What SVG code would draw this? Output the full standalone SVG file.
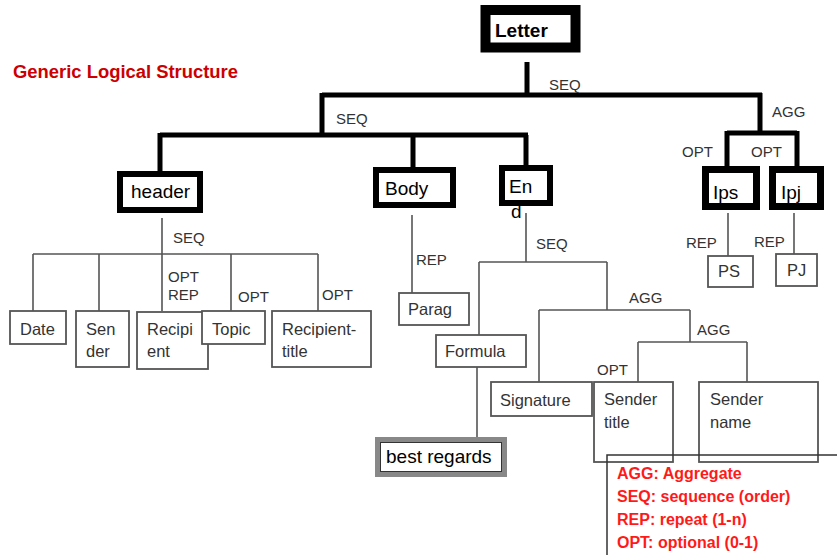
<svg xmlns="http://www.w3.org/2000/svg" width="837" height="555" viewBox="0 0 837 555">
  <style>
    .thick { fill: #fff; stroke: #000; }
    .box { fill: #fff; stroke: #555; stroke-width: 1.8; }
    .main { font-family: "Liberation Sans", Arial, sans-serif; font-size: 19px; fill: #000; }
    .txt { font-family: "Liberation Sans", Arial, sans-serif; font-size: 16.5px; fill: #333; }
    .lbl { font-family: "Liberation Sans", Arial, sans-serif; font-size: 15px; fill: #333; }
    .bold-line { fill: none; stroke: #000; stroke-width: 5; stroke-linejoin: miter; }
    .thin-line { fill: none; stroke: #555; stroke-width: 1.6; }
    .legend { font-family: "Liberation Sans", Arial, sans-serif; font-size: 16px; font-weight: bold; fill: #ff1a1a; }
  </style>

  <rect width="837" height="555" fill="#fff"/>

  <text x="13" y="78" font-family="Liberation Sans, Arial, sans-serif" font-size="18" font-weight="bold" fill="#cc0000" textLength="225" lengthAdjust="spacingAndGlyphs">Generic Logical Structure</text>

  <!-- connectors -->
  <g id="connectors">
    <path class="bold-line" d="M527,62 V95 M322,95 H762 M322,93 V135 M160,135 H528 M160,133 V171 M413,135 V167 M526,135 V165 M760,93 V133 M727,133 H797 M727,131 V166 M797,131 V166"/>
    <path class="thin-line" d="M162,218 V311 M33,254 H318 M33,254 V311 M99,254 V311 M231,254 V311 M318,254 V311"/>
    <path class="thin-line" d="M412,215 V293"/>
    <path class="thin-line" d="M526,213 V262 M479,262 H607 M479,262 V335 M607,262 V310 M539,310 H690 M539,310 V382 M690,310 V342 M638,342 H747 M638,342 V382 M747,342 V382 M477,367 V437"/>
    <path class="thin-line" d="M728,213 V256 M794,213 V254"/>
  </g>

  <!-- relation labels -->
  <g id="labels" class="lbl">
    <text x="549" y="90">SEQ</text>
    <text x="336" y="124">SEQ</text>
    <text x="772" y="117">AGG</text>
    <text x="682" y="157">OPT</text>
    <text x="751" y="157">OPT</text>
    <text x="173" y="243">SEQ</text>
    <text x="168" y="282">OPT</text>
    <text x="168" y="300">REP</text>
    <text x="238" y="302">OPT</text>
    <text x="322" y="300">OPT</text>
    <text x="416" y="265">REP</text>
    <text x="536" y="249">SEQ</text>
    <text x="629" y="303">AGG</text>
    <text x="697" y="335">AGG</text>
    <text x="597" y="375">OPT</text>
    <text x="686" y="248">REP</text>
    <text x="754" y="247">REP</text>
  </g>

  <g id="letter">
    <rect class="thick" x="485.5" y="10" width="90" height="37.5" stroke-width="10"/>
    <text class="main" x="495" y="37" font-weight="bold" font-size="18">Letter</text>
  </g>
  <g id="header">
    <rect class="thick" x="120" y="174" width="80" height="36" stroke-width="6"/>
    <text class="main" x="131" y="198">header</text>
  </g>
  <g id="body">
    <rect class="thick" x="376" y="170" width="77" height="35" stroke-width="6"/>
    <text class="main" x="385" y="195">Body</text>
  </g>
  <g id="end">
    <rect class="thick" x="502" y="168" width="48" height="35" stroke-width="6"/>
    <text class="main" x="509" y="193">En</text>
    <text class="main" x="511" y="218">d</text>
  </g>
  <g id="ips">
    <rect class="thick" x="705.5" y="169.5" width="51" height="37" stroke-width="7"/>
    <text class="main" x="713" y="199">Ips</text>
  </g>
  <g id="ipj">
    <rect class="thick" x="772.5" y="169.5" width="48" height="37" stroke-width="7"/>
    <text class="main" x="781" y="199">Ipj</text>
  </g>

  <g id="date">
    <rect class="box" x="10" y="311" width="56" height="33"/>
    <text class="txt" x="20" y="335">Date</text>
  </g>
  <g id="sender">
    <rect class="box" x="76" y="311" width="53" height="56"/>
    <text class="txt" x="86" y="335">Sen</text>
    <text class="txt" x="86" y="357">der</text>
  </g>
  <g id="recipient">
    <rect class="box" x="137" y="312" width="71" height="57"/>
    <text class="txt" x="147" y="335">Recipi</text>
    <text class="txt" x="147" y="357">ent</text>
  </g>
  <g id="topic">
    <rect class="box" x="202" y="311" width="63" height="33"/>
    <text class="txt" x="212" y="335">Topic</text>
  </g>
  <g id="recipient-title">
    <rect class="box" x="272" y="311" width="99" height="56"/>
    <text class="txt" x="282" y="335">Recipient-</text>
    <text class="txt" x="282" y="357">title</text>
  </g>
  <g id="parag">
    <rect class="box" x="399" y="293" width="70" height="32"/>
    <text class="txt" x="408" y="315">Parag</text>
  </g>
  <g id="formula">
    <rect class="box" x="436" y="335" width="90" height="32"/>
    <text class="txt" x="445" y="357">Formula</text>
  </g>
  <g id="best-regards">
    <rect x="377.5" y="439.5" width="127" height="35" fill="#fff" stroke="#888" stroke-width="5"/>
    <rect x="380.5" y="442.5" width="121" height="29" fill="none" stroke="#333" stroke-width="1"/>
    <text class="main" x="386" y="463">best regards</text>
  </g>
  <g id="signature">
    <rect class="box" x="491" y="382" width="101" height="34"/>
    <text class="txt" x="500" y="406">Signature</text>
  </g>
  <g id="sender-title">
    <rect class="box" x="594" y="382" width="79" height="80"/>
    <text class="txt" x="604" y="405">Sender</text>
    <text class="txt" x="604" y="428">title</text>
  </g>
  <g id="sender-name">
    <rect class="box" x="699" y="382" width="119" height="80"/>
    <text class="txt" x="710" y="405">Sender</text>
    <text class="txt" x="710" y="428">name</text>
  </g>
  <g id="ps">
    <rect class="box" x="708" y="256" width="45" height="31"/>
    <text class="txt" x="718" y="277">PS</text>
  </g>
  <g id="pj">
    <rect class="box" x="776" y="254" width="41" height="32"/>
    <text class="txt" x="787" y="276">PJ</text>
  </g>

  <!-- legend frame, drawn over the boxes above it -->
  <g id="legend">
    <path fill="none" stroke="#333" stroke-width="1.5" d="M607,555 V455 H837"/>
    <g class="legend">
      <text x="617" y="479">AGG: Aggregate</text>
      <text x="617" y="502">SEQ: sequence (order)</text>
      <text x="617" y="525">REP: repeat (1-n)</text>
      <text x="617" y="548">OPT: optional (0-1)</text>
    </g>
  </g>
</svg>
